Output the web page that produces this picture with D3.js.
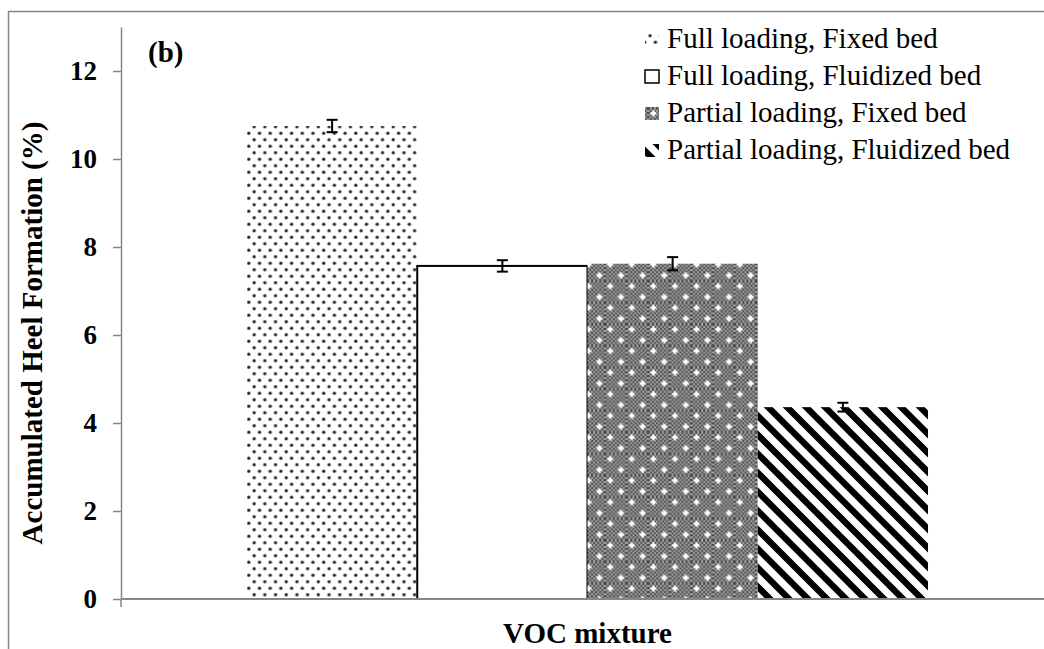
<!DOCTYPE html>
<html>
<head>
<meta charset="utf-8">
<script src="https://cdn.jsdelivr.net/npm/d3@7"></script>
<style>
  html, body { margin: 0; padding: 0; background: #fff; }
  svg { display: block; font-family: "Liberation Serif", "Times New Roman", serif; }
</style>
</head>
<body>
<svg id="chart" width="1044" height="649"></svg>
<script>
// ---- data ----
const categories = ["VOC mixture"];
const seriesNames = [
  "Full loading, Fixed bed",
  "Full loading, Fluidized bed",
  "Partial loading, Fixed bed",
  "Partial loading, Fluidized bed"
];
const seriesValues = [10.75, 7.57, 7.62, 4.36];
const seriesErrors = [0.14, 0.13, 0.15, 0.10];
const yTicks = [0, 2, 4, 6, 8, 10, 12];
const yMax = 13;
const panelLabel = "(b)";
const yTitle = "Accumulated Heel Formation (%)";

// ---- layout ----
const svg = d3.select("#chart");
const plot = { left: 121, right: 1054, top: 27, bottom: 599 };
const axisColor = "#868686";

const defs = svg.append("defs");

// pattern 1: dotted
const p1 = defs.append("pattern").attr("id", "pDots")
  .attr("patternUnits", "userSpaceOnUse").attr("width", 10.7).attr("height", 13);
p1.append("rect").attr("width", 10.7).attr("height", 13).attr("fill", "#fff");
[[2.7, 3.2], [8.05, 9.7]].forEach(([cx, cy]) => {
  p1.append("circle").attr("cx", cx).attr("cy", cy).attr("r", 2.0).attr("fill", "#999");
  p1.append("circle").attr("cx", cx).attr("cy", cy).attr("r", 1.2).attr("fill", "#222");
});

// fine checker
const pc = defs.append("pattern").attr("id", "pChk")
  .attr("patternUnits", "userSpaceOnUse").attr("width", 4).attr("height", 4);
pc.append("rect").attr("width", 4).attr("height", 4).attr("fill", "#a9a9a9");
pc.append("rect").attr("width", 2).attr("height", 2).attr("fill", "#474747");
pc.append("rect").attr("x", 2).attr("y", 2).attr("width", 2).attr("height", 2).attr("fill", "#474747");

// pattern 3: checker with white sparkles
const p3 = defs.append("pattern").attr("id", "pSpark")
  .attr("patternUnits", "userSpaceOnUse").attr("width", 21.6).attr("height", 21.6);
p3.append("rect").attr("width", 21.6).attr("height", 21.6).attr("fill", "url(#pChk)");
[[5.4, 5.4], [16.2, 16.2]].forEach(([cx, cy]) => {
  p3.append("rect").attr("x", cx - 1.2).attr("y", cy - 3).attr("width", 2.4).attr("height", 6).attr("fill", "#fff");
  p3.append("rect").attr("x", cx - 3).attr("y", cy - 1.2).attr("width", 6).attr("height", 2.4).attr("fill", "#fff");
});

// pattern 4: diagonal stripes "\"
const s = 19;
const p4 = defs.append("pattern").attr("id", "pStripe")
  .attr("patternUnits", "userSpaceOnUse").attr("width", s).attr("height", s);
p4.append("rect").attr("width", s).attr("height", s).attr("fill", "#fff");
p4.append("path")
  .attr("d", `M${-s/2},${-s/2} L${s*1.5},${s*1.5} M${-s/2},${s/2} L${s/2},${s*1.5} M${s/2},${-s/2} L${s*1.5},${s/2}`)
  .attr("stroke", "#000").attr("stroke-width", 6.4);

const fills = ["url(#pDots)", "#fff", "url(#pSpark)", "url(#pStripe)"];
const strokes = ["none", "#000", "none", "none"];

// frame
svg.append("rect").attr("x", 8.5).attr("y", 11.5).attr("width", 1100).attr("height", 700)
  .attr("fill", "none").attr("stroke", axisColor).attr("stroke-width", 1.5);

// scales
const y = d3.scaleLinear().domain([0, yMax]).range([plot.bottom, plot.top]);
const x0 = d3.scaleBand().domain(categories).range([plot.left, plot.right])
  .paddingInner(0).paddingOuter(0.185);
const x1 = d3.scaleBand().domain(seriesNames).range([0, x0.bandwidth()]).padding(0);

// bars
const g = svg.append("g");
categories.forEach(cat => {
  seriesNames.forEach((name, i) => {
    const bx = x0(cat) + x1(name);
    g.append("rect")
      .attr("x", bx).attr("y", y(seriesValues[i]))
      .attr("width", x1.bandwidth()).attr("height", y(0) - y(seriesValues[i]))
      .attr("fill", fills[i])
      .attr("stroke", strokes[i]).attr("stroke-width", 2);
  });
});

// x axis line
svg.append("line").attr("x1", plot.left).attr("x2", plot.right)
  .attr("y1", y(0)).attr("y2", y(0)).attr("stroke", axisColor).attr("stroke-width", 2);

// error bars
categories.forEach(cat => {
  seriesNames.forEach((name, i) => {
    const cx = x0(cat) + x1(name) + x1.bandwidth() / 2;
    const lo = y(seriesValues[i] - seriesErrors[i]);
    const hi = y(seriesValues[i] + seriesErrors[i]);
    const eb = svg.append("g").attr("stroke", "#000").attr("stroke-width", 2);
    eb.append("line").attr("x1", cx).attr("x2", cx).attr("y1", lo).attr("y2", hi);
    eb.append("line").attr("x1", cx - 5.5).attr("x2", cx + 5.5).attr("y1", lo).attr("y2", lo);
    eb.append("line").attr("x1", cx - 5.5).attr("x2", cx + 5.5).attr("y1", hi).attr("y2", hi);
  });
});

// y axis
const yAxis = d3.axisLeft(y).tickValues(yTicks).tickFormat(d3.format("d"))
  .tickSize(8).tickSizeOuter(0).tickPadding(16);
const ya = svg.append("g").attr("transform", `translate(${plot.left},0)`).call(yAxis);
ya.select(".domain").attr("stroke", axisColor).attr("stroke-width", 1.5);
ya.selectAll(".tick line").attr("stroke", axisColor).attr("stroke-width", 1.5);
ya.selectAll(".tick text").attr("fill", "#000")
  .style("font-family", "'Liberation Serif', serif").style("font-size", "27px").style("font-weight", "bold");
// category edge tick below axis
svg.append("line").attr("x1", plot.left).attr("x2", plot.left)
  .attr("y1", y(0)).attr("y2", y(0) + 8).attr("stroke", axisColor).attr("stroke-width", 1.5);

// y title
svg.append("text")
  .attr("transform", `translate(42,${(plot.top + plot.bottom) / 2 + 20}) rotate(-90)`)
  .attr("text-anchor", "middle")
  .style("font-size", "29px").style("font-weight", "bold")
  .text(yTitle);

// x title
svg.append("text")
  .attr("x", x0(categories[0]) + x0.bandwidth() / 2).attr("y", 643)
  .attr("text-anchor", "middle")
  .style("font-size", "29px").style("font-weight", "bold")
  .text(categories[0]);

// panel label
svg.append("text").attr("x", 148).attr("y", 62)
  .style("font-size", "29px").style("font-weight", "bold")
  .text(panelLabel);

// legend
const lg = svg.append("g");
seriesNames.forEach((name, i) => {
  const base = 48 + i * 37;
  lg.append("rect").attr("x", 645).attr("y", base - 15).attr("width", 14).attr("height", 13)
    .attr("fill", fills[i]).attr("stroke", strokes[i]).attr("stroke-width", 1.5);
  lg.append("text").attr("x", 667).attr("y", base)
    .style("font-size", "29px")
    .text(name);
});
</script>
</body>
</html>
